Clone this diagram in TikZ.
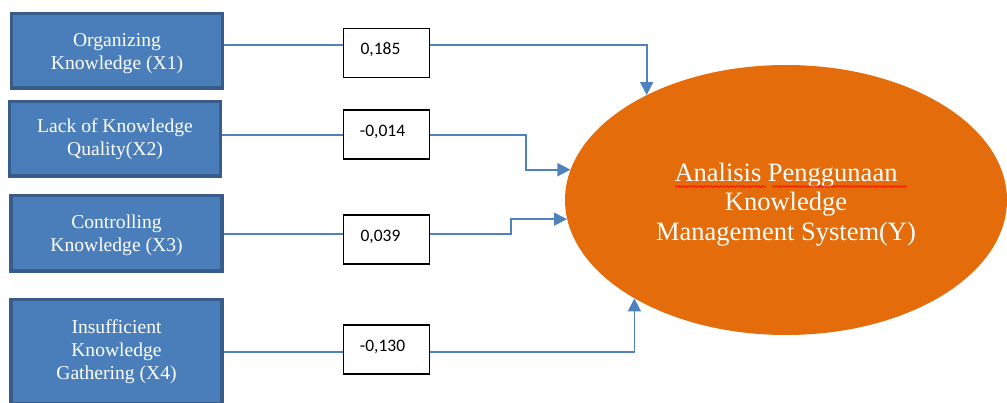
\documentclass[tikz,border=0pt]{standalone}
\usepackage{fontspec}
\usetikzlibrary{shapes.geometric,arrows.meta,decorations.pathmorphing}
\newfontfamily\tnr{Liberation Serif}
\newfontfamily\calib{Carlito}
\definecolor{boxfill}{HTML}{4A7EBB}
\definecolor{boxline}{HTML}{385D8A}
\definecolor{conn}{HTML}{4F81BD}
\definecolor{orng}{HTML}{E46C0A}
\tikzset{
  srcbox/.style={draw=boxline, fill=boxfill, line width=3.5pt, text=white, align=center,
    font=\tnr\fontsize{19.6}{23}\selectfont, inner sep=0pt, minimum width=211pt},
  valbox/.style={draw=black, line width=1.2pt, fill=white, minimum width=86pt, minimum height=49pt,
    inner sep=0pt, font=\calib\fontsize{17.5}{19}\selectfont, text height=10pt, text depth=6.6pt},
  link/.style={draw=conn, line width=1.8pt},
  arr/.style={link, -{Triangle[length=13pt,width=13pt]}},
  squig/.style={red, line width=0.6pt, decorate, decoration={snake, amplitude=0.9pt, segment length=3.2pt}}
}
\begin{document}
\begin{tikzpicture}[x=1pt,y=-1pt]
\useasboundingbox (0,0) rectangle (1007,403);
\clip (0,0) rectangle (1007,403);
% source boxes
\node[srcbox, minimum height=74.5pt] (x1) at (117,51) {\raisebox{-2.5pt}[\height][\depth]{\begin{tabular}{@{}c@{}}Organizing\\Knowledge (X1)\end{tabular}}};
\node[srcbox, minimum height=74.5pt] (x2) at (115,139) {Lack of Knowledge\\Quality(X2)};
\node[srcbox, minimum height=75.5pt] (x3) at (116.5,233.5) {\raisebox{-1.5pt}[\height][\depth]{\begin{tabular}{@{}c@{}}Controlling\\Knowledge (X3)\end{tabular}}};
\node[srcbox, minimum height=103.5pt] (x4) at (116.5,351.5) {Insufficient\\Knowledge\\Gathering (X4)};
% target ellipse
\node[ellipse, fill=orng, minimum width=442pt, minimum height=270pt, inner sep=0pt,
  text=white, font=\tnr\fontsize{26.5}{29.5}\selectfont] (y) at (786,200)
  {\raisebox{-5pt}[\height][\depth]{\begin{tabular}{@{}c@{}}Analisis Penggunaan\\Knowledge\\Management System(Y)\end{tabular}}};
\draw[squig] (675,186.5) -- (766,186.5);
\draw[squig] (772,186.5) -- (907,186.5);
% value boxes
\node[valbox] (v1) at (386.5,53) {\hspace*{-12pt}0,185};
\node[valbox] (v2) at (386.5,134.5) {\hspace*{-8pt}-0,014};
\node[valbox] (v3) at (386.5,239.5) {\hspace*{-12pt}0,039};
\node[valbox] (v4) at (386.5,349.5) {\hspace*{-8pt}-0,130};
% connectors
\draw[link] ([yshift=6pt]x1.east) -- ([yshift=8pt]v1.west);
\draw[arr] ([yshift=8pt]v1.east) -| (y.143.5);
\draw[link] ([yshift=4pt]x2.east) -- ([yshift=-0.5pt]v2.west);
\draw[arr] ([yshift=-0.5pt]v2.east) -- (526,135) |- (y.172.8);
\draw[link] ([yshift=-0.5pt]x3.east) -- ([yshift=5.5pt]v3.west);
\draw[arr] ([yshift=5.5pt]v3.east) -- (511,234) |- (y.185.1);
\draw[link] ([yshift=-0.5pt]x4.east) -- ([yshift=-2.5pt]v4.west);
\draw[arr] ([yshift=-2.5pt]v4.east) -| (y.213.5);
\end{tikzpicture}
\end{document}
